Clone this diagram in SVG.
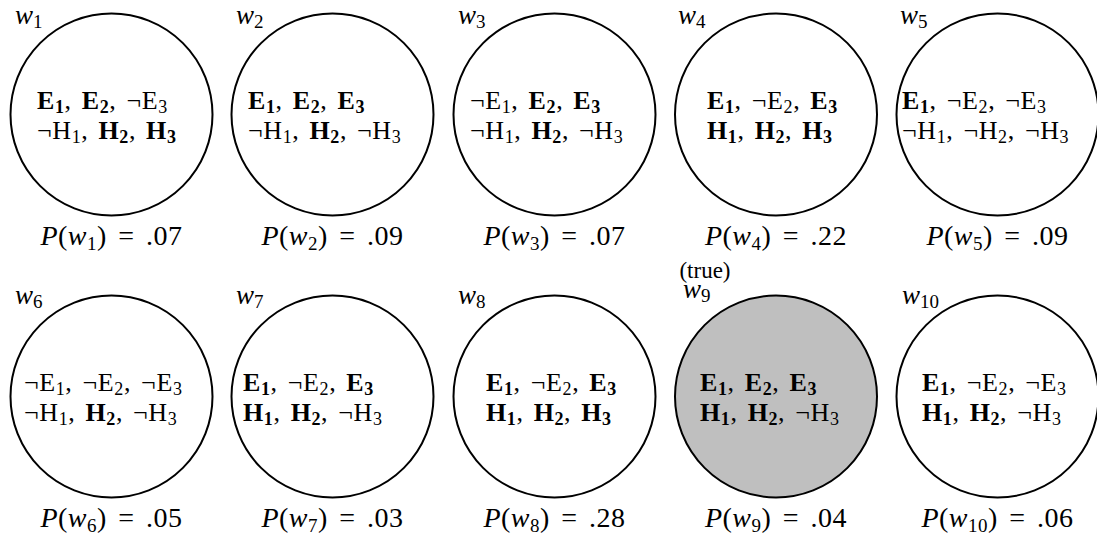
<svg xmlns="http://www.w3.org/2000/svg" width="1097" height="537" viewBox="0 0 1097 537">
<style>
text{font-family:"Liberation Serif","DejaVu Serif",serif;fill:#000}
.c{fill:#fff;stroke:#000;stroke-width:2}
.g{fill:#bfbfbf}
.t{font-size:26px;letter-spacing:0.6px;word-spacing:3px}
.b{font-weight:bold}
.s{font-size:18px}
.m{font-size:28px;letter-spacing:0.5px;word-spacing:4px}
.wl{font-size:27px}
.i{font-style:italic}
.ms{font-size:19px}
.ws{font-size:19px}
.tr{font-size:23px}
</style>
<rect width="1097" height="537" fill="#fff"/>
<g id="connectors"/>
<g id="w1">
<circle class="c" cx="111.5" cy="114.5" r="101"/>
<text class="wl" x="15" y="24"><tspan class="i">w</tspan><tspan class="ws" dy="4">1</tspan></text>
<text class="t" x="37" y="109"><tspan class="b">E</tspan><tspan class="s b" dy="4">1</tspan><tspan dy="-4">, </tspan><tspan class="b">E</tspan><tspan class="s b" dy="4">2</tspan><tspan dy="-4">, ¬E</tspan><tspan class="s" dy="4">3</tspan></text>
<text class="t" x="37" y="139">¬H<tspan class="s" dy="4">1</tspan><tspan dy="-4">, </tspan><tspan class="b">H</tspan><tspan class="s b" dy="4">2</tspan><tspan dy="-4">, </tspan><tspan class="b">H</tspan><tspan class="s b" dy="4">3</tspan></text>
<text class="m" x="111.5" y="245" text-anchor="middle"><tspan class="i">P</tspan>(<tspan class="i">w</tspan><tspan class="ms" dy="5">1</tspan><tspan dy="-5">) = .07</tspan></text>
</g>
<g id="w2">
<circle class="c" cx="332.5" cy="114.5" r="101"/>
<text class="wl" x="236" y="24"><tspan class="i">w</tspan><tspan class="ws" dy="4">2</tspan></text>
<text class="t" x="248" y="109"><tspan class="b">E</tspan><tspan class="s b" dy="4">1</tspan><tspan dy="-4">, </tspan><tspan class="b">E</tspan><tspan class="s b" dy="4">2</tspan><tspan dy="-4">, </tspan><tspan class="b">E</tspan><tspan class="s b" dy="4">3</tspan></text>
<text class="t" x="248" y="139">¬H<tspan class="s" dy="4">1</tspan><tspan dy="-4">, </tspan><tspan class="b">H</tspan><tspan class="s b" dy="4">2</tspan><tspan dy="-4">, ¬H</tspan><tspan class="s" dy="4">3</tspan></text>
<text class="m" x="332.5" y="245" text-anchor="middle"><tspan class="i">P</tspan>(<tspan class="i">w</tspan><tspan class="ms" dy="5">2</tspan><tspan dy="-5">) = .09</tspan></text>
</g>
<g id="w3">
<circle class="c" cx="554.5" cy="114.5" r="101"/>
<text class="wl" x="458" y="24"><tspan class="i">w</tspan><tspan class="ws" dy="4">3</tspan></text>
<text class="t" x="470" y="109">¬E<tspan class="s" dy="4">1</tspan><tspan dy="-4">, </tspan><tspan class="b">E</tspan><tspan class="s b" dy="4">2</tspan><tspan dy="-4">, </tspan><tspan class="b">E</tspan><tspan class="s b" dy="4">3</tspan></text>
<text class="t" x="470" y="139">¬H<tspan class="s" dy="4">1</tspan><tspan dy="-4">, </tspan><tspan class="b">H</tspan><tspan class="s b" dy="4">2</tspan><tspan dy="-4">, ¬H</tspan><tspan class="s" dy="4">3</tspan></text>
<text class="m" x="554.5" y="245" text-anchor="middle"><tspan class="i">P</tspan>(<tspan class="i">w</tspan><tspan class="ms" dy="5">3</tspan><tspan dy="-5">) = .07</tspan></text>
</g>
<g id="w4">
<circle class="c" cx="776" cy="114.5" r="101"/>
<text class="wl" x="678" y="24"><tspan class="i">w</tspan><tspan class="ws" dy="4">4</tspan></text>
<text class="t" x="707" y="109"><tspan class="b">E</tspan><tspan class="s b" dy="4">1</tspan><tspan dy="-4">, ¬E</tspan><tspan class="s" dy="4">2</tspan><tspan dy="-4">, </tspan><tspan class="b">E</tspan><tspan class="s b" dy="4">3</tspan></text>
<text class="t" x="707" y="139"><tspan class="b">H</tspan><tspan class="s b" dy="4">1</tspan><tspan dy="-4">, </tspan><tspan class="b">H</tspan><tspan class="s b" dy="4">2</tspan><tspan dy="-4">, </tspan><tspan class="b">H</tspan><tspan class="s b" dy="4">3</tspan></text>
<text class="m" x="776" y="245" text-anchor="middle"><tspan class="i">P</tspan>(<tspan class="i">w</tspan><tspan class="ms" dy="5">4</tspan><tspan dy="-5">) = .22</tspan></text>
</g>
<g id="w5">
<circle class="c" cx="997.5" cy="114.5" r="101"/>
<text class="wl" x="900" y="24"><tspan class="i">w</tspan><tspan class="ws" dy="4">5</tspan></text>
<text class="t" x="902" y="109"><tspan class="b">E</tspan><tspan class="s b" dy="4">1</tspan><tspan dy="-4">, ¬E</tspan><tspan class="s" dy="4">2</tspan><tspan dy="-4">, ¬E</tspan><tspan class="s" dy="4">3</tspan></text>
<text class="t" x="902" y="139">¬H<tspan class="s" dy="4">1</tspan><tspan dy="-4">, ¬H</tspan><tspan class="s" dy="4">2</tspan><tspan dy="-4">, ¬H</tspan><tspan class="s" dy="4">3</tspan></text>
<text class="m" x="997.5" y="245" text-anchor="middle"><tspan class="i">P</tspan>(<tspan class="i">w</tspan><tspan class="ms" dy="5">5</tspan><tspan dy="-5">) = .09</tspan></text>
</g>
<g id="w6">
<circle class="c" cx="111.5" cy="396.5" r="101"/>
<text class="wl" x="15" y="304"><tspan class="i">w</tspan><tspan class="ws" dy="4">6</tspan></text>
<text class="t" x="24" y="391">¬E<tspan class="s" dy="4">1</tspan><tspan dy="-4">, ¬E</tspan><tspan class="s" dy="4">2</tspan><tspan dy="-4">, ¬E</tspan><tspan class="s" dy="4">3</tspan></text>
<text class="t" x="24" y="421">¬H<tspan class="s" dy="4">1</tspan><tspan dy="-4">, </tspan><tspan class="b">H</tspan><tspan class="s b" dy="4">2</tspan><tspan dy="-4">, ¬H</tspan><tspan class="s" dy="4">3</tspan></text>
<text class="m" x="111.5" y="527" text-anchor="middle"><tspan class="i">P</tspan>(<tspan class="i">w</tspan><tspan class="ms" dy="5">6</tspan><tspan dy="-5">) = .05</tspan></text>
</g>
<g id="w7">
<circle class="c" cx="332.5" cy="396.5" r="101"/>
<text class="wl" x="236" y="304"><tspan class="i">w</tspan><tspan class="ws" dy="4">7</tspan></text>
<text class="t" x="243" y="391"><tspan class="b">E</tspan><tspan class="s b" dy="4">1</tspan><tspan dy="-4">, ¬E</tspan><tspan class="s" dy="4">2</tspan><tspan dy="-4">, </tspan><tspan class="b">E</tspan><tspan class="s b" dy="4">3</tspan></text>
<text class="t" x="243" y="421"><tspan class="b">H</tspan><tspan class="s b" dy="4">1</tspan><tspan dy="-4">, </tspan><tspan class="b">H</tspan><tspan class="s b" dy="4">2</tspan><tspan dy="-4">, ¬H</tspan><tspan class="s" dy="4">3</tspan></text>
<text class="m" x="332.5" y="527" text-anchor="middle"><tspan class="i">P</tspan>(<tspan class="i">w</tspan><tspan class="ms" dy="5">7</tspan><tspan dy="-5">) = .03</tspan></text>
</g>
<g id="w8">
<circle class="c" cx="554.5" cy="396.5" r="101"/>
<text class="wl" x="458" y="304"><tspan class="i">w</tspan><tspan class="ws" dy="4">8</tspan></text>
<text class="t" x="486" y="391"><tspan class="b">E</tspan><tspan class="s b" dy="4">1</tspan><tspan dy="-4">, ¬E</tspan><tspan class="s" dy="4">2</tspan><tspan dy="-4">, </tspan><tspan class="b">E</tspan><tspan class="s b" dy="4">3</tspan></text>
<text class="t" x="486" y="421"><tspan class="b">H</tspan><tspan class="s b" dy="4">1</tspan><tspan dy="-4">, </tspan><tspan class="b">H</tspan><tspan class="s b" dy="4">2</tspan><tspan dy="-4">, </tspan><tspan class="b">H</tspan><tspan class="s b" dy="4">3</tspan></text>
<text class="m" x="554.5" y="527" text-anchor="middle"><tspan class="i">P</tspan>(<tspan class="i">w</tspan><tspan class="ms" dy="5">8</tspan><tspan dy="-5">) = .28</tspan></text>
</g>
<g id="w9">
<circle class="c g" cx="776" cy="396.5" r="101"/>
<text class="tr" x="705" y="278" text-anchor="middle">(true)</text>
<text class="wl" x="683" y="298"><tspan class="i">w</tspan><tspan class="ws" dy="4">9</tspan></text>
<text class="t" x="700" y="391"><tspan class="b">E</tspan><tspan class="s b" dy="4">1</tspan><tspan dy="-4">, </tspan><tspan class="b">E</tspan><tspan class="s b" dy="4">2</tspan><tspan dy="-4">, </tspan><tspan class="b">E</tspan><tspan class="s b" dy="4">3</tspan></text>
<text class="t" x="700" y="421"><tspan class="b">H</tspan><tspan class="s b" dy="4">1</tspan><tspan dy="-4">, </tspan><tspan class="b">H</tspan><tspan class="s b" dy="4">2</tspan><tspan dy="-4">, ¬H</tspan><tspan class="s" dy="4">3</tspan></text>
<text class="m" x="776" y="527" text-anchor="middle"><tspan class="i">P</tspan>(<tspan class="i">w</tspan><tspan class="ms" dy="5">9</tspan><tspan dy="-5">) = .04</tspan></text>
</g>
<g id="w10">
<circle class="c" cx="997.5" cy="396.5" r="101"/>
<text class="wl" x="902" y="304"><tspan class="i">w</tspan><tspan class="ws" dy="4">10</tspan></text>
<text class="t" x="922" y="391"><tspan class="b">E</tspan><tspan class="s b" dy="4">1</tspan><tspan dy="-4">, ¬E</tspan><tspan class="s" dy="4">2</tspan><tspan dy="-4">, ¬E</tspan><tspan class="s" dy="4">3</tspan></text>
<text class="t" x="922" y="421"><tspan class="b">H</tspan><tspan class="s b" dy="4">1</tspan><tspan dy="-4">, </tspan><tspan class="b">H</tspan><tspan class="s b" dy="4">2</tspan><tspan dy="-4">, ¬H</tspan><tspan class="s" dy="4">3</tspan></text>
<text class="m" x="997.5" y="527" text-anchor="middle"><tspan class="i">P</tspan>(<tspan class="i">w</tspan><tspan class="ms" dy="5">10</tspan><tspan dy="-5">) = .06</tspan></text>
</g>
</svg>
